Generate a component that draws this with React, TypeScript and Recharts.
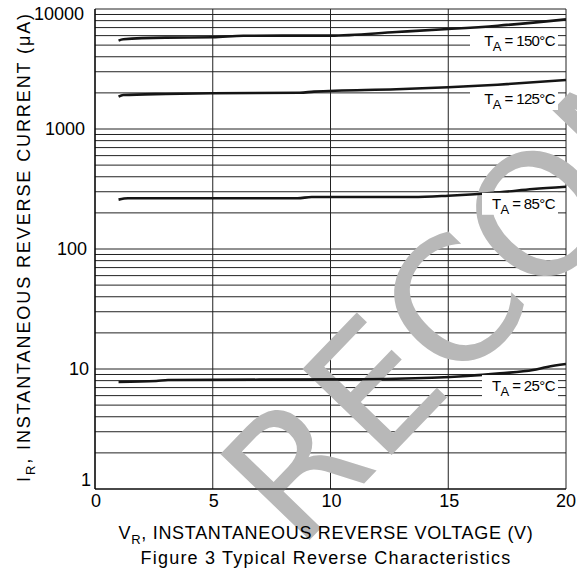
import { LineChart, Line, XAxis, YAxis, CartesianGrid } from "recharts";

// Typical reverse characteristics
const voltageTicks = [0, 5, 10, 15, 20];
const currentTicks = [1, 10, 100, 1000, 10000];
const temperatures = ["150", "125", "85", "25"];

const volts150 = [1, 1.2, 3, 5, 6.3, 10, 12.8, 15, 17.1, 20];
const amps150 = [5450, 5590, 5770, 5810, 5990, 6000, 6430, 6810, 7260, 8200];

const volts125 = [1, 1.2, 3, 5, 8.7, 9.3, 12.8, 15, 17.1, 20];
const amps125 = [1860, 1920, 1960, 1985, 2005, 2050, 2145, 2225, 2340, 2560];

const volts85 = [1, 1.4, 8.6, 9.2, 13.5, 15, 17.2, 18.6, 20];
const amps85 = [258, 265, 265, 271, 271, 278, 297, 316, 330];

const volts25 = [1, 2.6, 3.1, 10.9, 14.3, 15.8, 17.2, 18.6, 19.2, 20];
const amps25 = [7.8, 7.95, 8.1, 8.2, 8.45, 8.75, 9.2, 9.8, 10.4, 11.0];

const FONT = "'Liberation Sans', Arial, sans-serif";

const toSeries = (v: number[], a: number[]) => v.map((x, i) => ({ v: x, i: a[i] }));

const series = [
  toSeries(volts150, amps150),
  toSeries(volts125, amps125),
  toSeries(volts85, amps85),
  toSeries(volts25, amps25),
];

// log grid: every 1..9 step in each decade, labels only on the decades
const gridValues: number[] = [];
currentTicks.forEach((d) => {
  if (d === 10000) {
    gridValues.push(d);
    return;
  }
  for (let k = 1; k < 10; k++) gridValues.push(d * k);
});

// how far below the curve end the temperature tag sits (px)
const tagDrop = [27, 24, 22, 27];

const makeTag = (temp: string, n: number, drop: number) => (props: any) => {
  const { x, y, index } = props;
  if (index !== n - 1) return <g key={`t-${temp}-${index}`} />;
  const w = temp.length > 2 ? 88 : 76;
  const tx = x - 11;
  const ty = y + drop;
  return (
    <g key={`t-${temp}`}>
      <rect x={x - 8 - w} y={ty - 16} width={w} height={22} fill="#fff" />
      <text
        x={tx}
        y={ty}
        textAnchor="end"
        fontFamily={FONT}
        fontSize={15}
        letterSpacing={-0.6}
        fill="#000"
      >
        T
        <tspan dy={5} fontSize={13}>A</tspan>
        <tspan dy={-5}>{` =  ${temp}°C`}</tspan>
      </text>
    </g>
  );
};

const yTickEnd: Record<number, number> = { 10000: 9, 1000: 8, 100: 6, 10: 4, 1: 2 };
const yTickShift: Record<number, number> = { 10000: 5, 1000: 0, 100: 0, 10: 0, 1: -9 };

const YTick = ({ x, y, payload }: any) => {
  const v = payload.value;
  if (!currentTicks.includes(v)) return <g />;
  return (
    <text
      x={x - yTickEnd[v]}
      y={y + yTickShift[v] + 6}
      textAnchor="end"
      fontFamily={FONT}
      fontSize={18}
      fill="#000"
    >
      {v}
    </text>
  );
};

const XTick = ({ x, y, payload }: any) => (
  <text
    x={x + (payload.value === 20 ? 0 : 1)}
    y={y + 16}
    textAnchor="middle"
    fontFamily={FONT}
    fontSize={18}
    fill="#000"
  >
    {payload.value}
  </text>
);

export default function App() {
  return (
    <div style={{ position: "absolute", left: 0, top: 0, background: "#fff" }}>
      <LineChart
        width={577}
        height={575}
        margin={{ top: 9, right: 11, bottom: 85, left: 94 }}
      >
        {/* datasheet watermark, sits behind everything */}
        <text
          transform="translate(298, 552) rotate(-46)"
          fontFamily="'DejaVu Sans', sans-serif"
          fontSize={170}
          fill="#b8b8b8"
        >
          RECOMMENDED
        </text>
        <CartesianGrid stroke="#222" strokeWidth={1} />
        <XAxis
          type="number"
          dataKey="v"
          domain={[0, 20]}
          ticks={voltageTicks}
          interval={0}
          allowDataOverflow
          height={1}
          tickSize={0}
          tickLine={false}
          axisLine={{ stroke: "#000", strokeWidth: 1.2 }}
          tick={XTick}
        />
        <YAxis
          type="number"
          scale="log"
          domain={[1, 10000]}
          ticks={gridValues}
          interval={0}
          allowDataOverflow
          width={1}
          tickSize={0}
          tickLine={false}
          axisLine={{ stroke: "#000", strokeWidth: 1.2 }}
          tick={YTick}
        />
        {series.map((s, k) => (
          <Line
            key={temperatures[k]}
            data={s}
            dataKey="i"
            type="monotone"
            stroke="#151515"
            strokeWidth={2.6}
            dot={false}
            isAnimationActive={false}
            label={makeTag(temperatures[k], s.length, tagDrop[k])}
          />
        ))}
        <text
          x={326}
          y={539}
          textAnchor="middle"
          fontFamily={FONT}
          fontSize={18}
          letterSpacing={0.7}
          fill="#000"
        >
          V
          <tspan dy={5} fontSize={13}>R</tspan>
          <tspan dy={-5}>, INSTANTANEOUS REVERSE VOLTAGE (V)</tspan>
        </text>
        <text
          x={326}
          y={564}
          textAnchor="middle"
          fontFamily={FONT}
          fontSize={18}
          letterSpacing={1.2}
          fill="#000"
        >
          Figure 3 Typical Reverse Characteristics
        </text>
        <text
          transform="translate(30, 247) rotate(-90)"
          textAnchor="middle"
          fontFamily={FONT}
          fontSize={18}
          letterSpacing={1.9}
          fill="#000"
        >
          I
          <tspan dy={5} fontSize={13}>R</tspan>
          <tspan dy={-5}>, INSTANTANEOUS REVERSE CURRENT (μA)</tspan>
        </text>
      </LineChart>
    </div>
  );
}
